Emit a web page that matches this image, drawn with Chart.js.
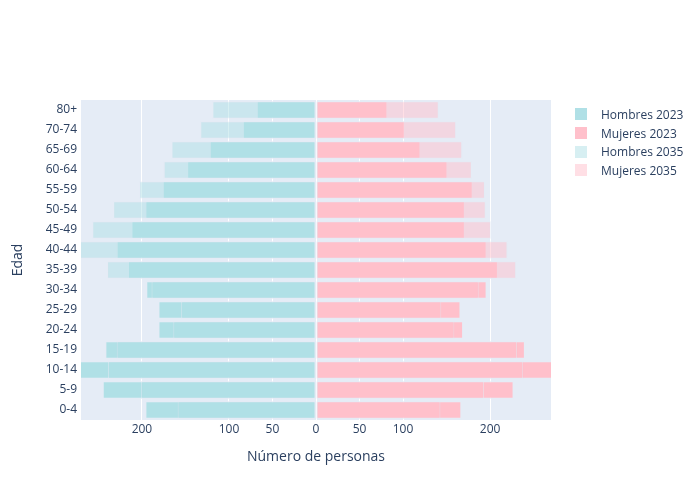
<!DOCTYPE html>
<html>
<head>
<meta charset="utf-8">
<script src="https://cdn.jsdelivr.net/npm/chart.js@4"></script>
<style>
  body { margin: 0; background: #fff; font-family: "Open Sans", sans-serif; }
  #wrap { position: relative; width: 700px; height: 500px; }
  #legend { position: absolute; left: 575px; top: 105px; }
  .leg-item { display: flex; align-items: center; height: 18.7px; font-size: 12px; color: #2a3f5f; }
  .leg-box { width: 12px; height: 12px; margin-right: 14px; box-sizing: border-box; }
</style>
</head>
<body>
<div id="wrap">
  <canvas id="pyramid" width="700" height="500"></canvas>
  <div id="legend"></div>
</div>
<script>
// ---------- DATA ----------
const ageGroups = ["0-4","5-9","10-14","15-19","20-24","25-29","30-34","35-39","40-44","45-49","50-54","55-59","60-64","65-69","70-74","80+"];
const hombres2023 = [196, 245, 285, 242, 181, 181, 195, 216, 229, 212, 196, 176, 148, 122, 84, 68];
const mujeres2023 = [167, 227, 280, 240, 169, 166, 196, 209, 196, 171, 171, 180, 151, 120, 102, 82];
const hombres2035 = [159, 201, 239, 229, 164, 155, 189, 240, 272, 257, 233, 203, 175, 166, 133, 119];
const mujeres2035 = [143, 193, 238, 231, 159, 144, 187, 230, 220, 201, 195, 194, 179, 168, 161, 141];
const xTicks = [-200, -100, -50, 0, 50, 100, 200];

const TXT = "#2a3f5f";
const BG = "#E5ECF6";

const series = [
    { label: "Hombres 2023", data: hombres2023.map(v => -v), color: "rgb(176,224,230)", line: BG, order: 1 },
    { label: "Mujeres 2023", data: mujeres2023, color: "rgb(255,192,203)", line: BG, order: 1 },
    { label: "Hombres 2035", data: hombres2035.map(v => -v), color: "rgba(176,224,230,0.5)", line: "rgba(229,236,246,0.5)", order: 0 },
    { label: "Mujeres 2035", data: mujeres2035, color: "rgba(255,192,203,0.5)", line: "rgba(229,236,246,0.5)", order: 0 }
];

// plot background
const plotBg = {
    id: "plotBg",
    beforeDraw(chart) {
        const a = chart.chartArea;
        chart.ctx.save();
        chart.ctx.fillStyle = BG;
        chart.ctx.fillRect(a.left, a.top, a.right - a.left, a.bottom - a.top);
        chart.ctx.restore();
    }
};

new Chart(document.getElementById("pyramid"), {
    type: "bar",
    data: {
        labels: ageGroups,
        datasets: series.map(s => ({
            label: s.label,
            data: s.data,
            backgroundColor: s.color,
            borderColor: s.line,
            borderWidth: 1,
            borderSkipped: false,
            grouped: false,
            order: s.order,
            barPercentage: 0.88,
            categoryPercentage: 1
        }))
    },
    options: {
        indexAxis: "y",
        responsive: false,
        animation: false,
        layout: { padding: { top: 100, right: 149, left: 0, bottom: 0 } },
        plugins: {
            legend: { display: false },
            tooltip: { enabled: false }
        },
        scales: {
            x: {
                min: -270,
                max: 270,
                afterBuildTicks: axis => { axis.ticks = xTicks.map(v => ({ value: v })); },
                afterFit: axis => { axis.height = 80; },
                ticks: {
                    color: TXT,
                    font: { family: "Open Sans", size: 12 },
                    padding: 2,
                    maxRotation: 0,
                    callback: v => Math.abs(v)
                },
                grid: { color: "#ffffff", lineWidth: 1, drawTicks: false },
                border: { display: false },
                title: {
                    display: true,
                    text: "Número de personas",
                    color: TXT,
                    font: { family: "Open Sans", size: 14 },
                    padding: { top: 4, bottom: 35 }
                }
            },
            y: {
                reverse: true,
                afterFit: axis => { axis.width = 81; },
                ticks: {
                    color: TXT,
                    font: { family: "Open Sans", size: 12 },
                    padding: 4
                },
                grid: { display: false, drawTicks: false },
                border: { display: false },
                title: {
                    display: true,
                    text: "Edad",
                    color: TXT,
                    font: { family: "Open Sans", size: 14 },
                    padding: { top: 10, bottom: 0 }
                }
            }
        }
    },
    plugins: [plotBg]
});

// ---------- LEGEND ----------
const legendSwatch = ["rgb(176,224,230)", "rgb(255,192,203)", "rgba(176,224,230,0.5)", "rgba(255,192,203,0.5)"];
document.getElementById("legend").innerHTML = series.map((s, i) => `
    <div class="leg-item">
        <div class="leg-box" style="background:${legendSwatch[i]}"></div>
        <span>${s.label}</span>
    </div>
`).join("");
</script>
</body>
</html>
